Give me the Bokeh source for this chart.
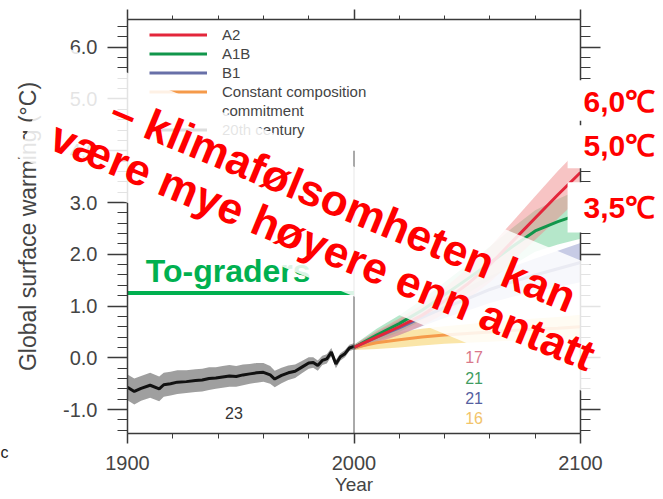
import math
import numpy as np
from bokeh.plotting import figure
from bokeh.layouts import row
from bokeh.models import (Range1d, LinearAxis, SingleIntervalTicker, PrintfTickFormatter,
                          Label, Legend, LegendItem)
from bokeh.core.properties import value
from bokeh.embed import file_html
from bokeh.resources import INLINE

# ---------------- data ----------------
obs_years = [1900, 1903, 1906, 1910, 1914, 1916, 1919, 1922, 1926, 1930, 1933, 1936, 1939,
             1942, 1945, 1948, 1951, 1954, 1957, 1960, 1963, 1965, 1968, 1971, 1974, 1977,
             1980, 1982, 1984, 1986, 1988, 1990, 1992, 1994, 1996, 1998, 2000]
obs_temp = [-0.57, -0.65, -0.59, -0.53, -0.60, -0.52, -0.50, -0.47, -0.46, -0.44, -0.43, -0.40, -0.39,
            -0.37, -0.35, -0.36, -0.33, -0.31, -0.29, -0.28, -0.33, -0.41, -0.34, -0.29, -0.26, -0.18,
            -0.10, -0.09, -0.15, -0.05, -0.02, 0.11, -0.12, 0.02, 0.08, 0.19, 0.22]
obs_spread = [0.25, 0.25, 0.24, 0.24, 0.24, 0.23, 0.23, 0.23, 0.22, 0.22, 0.22, 0.22, 0.21,
              0.21, 0.21, 0.20, 0.20, 0.19, 0.19, 0.18, 0.17, 0.16, 0.15, 0.14, 0.13, 0.12,
              0.11, 0.10, 0.10, 0.09, 0.09, 0.08, 0.08, 0.07, 0.07, 0.06, 0.06]

proj_years = [2000, 2010, 2020, 2030, 2040, 2050, 2060, 2070, 2080, 2090, 2100]
a2 = [0.20, 0.40, 0.60, 0.82, 1.10, 1.42, 1.80, 2.25, 2.70, 3.15, 3.58]
a1b = [0.20, 0.44, 0.66, 0.92, 1.22, 1.52, 1.83, 2.15, 2.45, 2.63, 2.78]
b1 = [0.20, 0.40, 0.58, 0.78, 0.97, 1.14, 1.32, 1.47, 1.60, 1.72, 1.84]
cc = [0.20, 0.29, 0.35, 0.40, 0.44, 0.47, 0.50, 0.53, 0.55, 0.57, 0.60]
a2_sd = [0.05, 0.12, 0.16, 0.20, 0.25, 0.30, 0.34, 0.38, 0.42, 0.46, 0.48]
a1b_sd = [0.05, 0.12, 0.16, 0.20, 0.24, 0.28, 0.32, 0.36, 0.40, 0.44, 0.48]
b1_sd = [0.05, 0.10, 0.14, 0.17, 0.20, 0.23, 0.26, 0.29, 0.32, 0.35, 0.38]
cc_sd = [0.05, 0.12, 0.15, 0.16, 0.17, 0.18, 0.19, 0.20, 0.21, 0.22, 0.23]

legend_labels = ["A2", "A1B", "B1", "Constant composition", "commitment", "20th century"]

count_text = ["23", "17", "21", "21", "16"]
count_x = [1947, 2053, 2053, 2053, 2053]
count_y = [-1.07, 0.02, -0.39, -0.78, -1.16]
count_colors = ["#333333", "#d9788a", "#3f9c62", "#5560a0", "#f2c46a"]

divider_year = [2000]
divider_bottom = [-1.462]
divider_top = [4.0]

two_deg_x = [1900, 2000]
two_deg_y = [1.25, 1.25]
two_deg_text = "To-graders"
two_deg_pos = (1908.1, 1.68)

banner_lines = ["\u2013 klimaf\u00f8lsomheten kan", "v\u00e6re mye h\u00f8yere enn antatt"]
banner_pos = (1991.6, 2.633)          # reference point of the white band
band_dv = 2                           # band centre offset across the band (px)
banner_line_dv = [-20, 27]            # text line offsets across the band (px)
banner_line_du = [1, -2]              # text line offsets along the band (px)

right_labels = ["6,0\u2103", "5,0\u2103", "3,5\u2103"]
right_label_y = [4.95, 4.10, 2.894]
right_label_x = 2101.3
right_box_top = [5.36, 4.49, 3.39]
right_box_bottom = [4.58, 3.66, 2.42]
right_box_left = 2094.3

edge_text = "c"
edge_pos = (1843.9, -1.83)

FONT = "Liberation Sans"

# ---------------- main chart ----------------
X0, X1, Y0, Y1 = 1900, 2100, -1.462, 6.535
W, H = 663, 499
BL, BR, BT, BB = 127, 83, 19, 66
p = figure(width=W, height=H, output_backend="svg", toolbar_location=None,
           x_range=Range1d(X0, X1), y_range=Range1d(Y0, Y1),
           x_axis_location=None, y_axis_location=None,
           min_border_left=BL, min_border_right=BR, min_border_top=BT, min_border_bottom=BB)
p.grid.visible = False
p.outline_line_color = None
p.background_fill_color = "white"
p.border_fill_color = "white"

AX = "#3a3a3a"
TXT = "#444444"

def make_axis(interval, major_out, minor_out, label_size, fmt=None, label_color=TXT, **kw):
    ax = LinearAxis(ticker=SingleIntervalTicker(interval=interval, num_minor_ticks=5),
                    major_tick_out=major_out, major_tick_in=0,
                    minor_tick_out=minor_out, minor_tick_in=0,
                    axis_line_color=AX, axis_line_width=1.5,
                    major_tick_line_color=AX, major_tick_line_width=1.5,
                    minor_tick_line_color=AX, minor_tick_line_width=1,
                    major_label_text_font=FONT, major_label_text_font_size=label_size,
                    major_label_text_color=label_color, **kw)
    if fmt is not None:
        ax.formatter = fmt
    return ax

bottom = make_axis(100, 10, 5, "20px", axis_label="Year", major_label_standoff=12,
                   axis_label_standoff=1, axis_label_text_font=FONT,
                   axis_label_text_font_size="19px", axis_label_text_font_style="normal",
                   axis_label_text_color=TXT)
top = make_axis(100, 10, 4, "1px", label_color=None, major_label_standoff=0)
left = make_axis(1, 20, 10, "20px", fmt=PrintfTickFormatter(format="%.1f"),
                 axis_label="Global surface warming (\u00b0C)", major_label_standoff=10,
                 axis_label_standoff=19, axis_label_text_font=FONT,
                 axis_label_text_font_size="23px", axis_label_text_font_style="normal",
                 axis_label_text_color=TXT)
right = make_axis(1, 20, 10, "1px", label_color=None, major_label_standoff=0)
p.add_layout(bottom, "below")
p.add_layout(top, "above")
p.add_layout(left, "left")
p.add_layout(right, "right")

# stray slide letter at the far left edge (side panel, so it is not clipped)
p.add_layout(Label(x=edge_pos[0], y=edge_pos[1], text=edge_text, text_font=FONT,
                   text_font_size="16px", text_color="#222222", text_align="left",
                   text_baseline="middle"), "left")

t = np.array(obs_temp)
s = np.array(obs_spread)
p.varea(x=obs_years, y1=t - s, y2=t + s, fill_color="#9f9f9f", fill_alpha=1.0)

py = proj_years
for vals, sd, col, alpha in [(cc, cc_sd, "#f5d060", 0.55), (b1, b1_sd, "#8f98cc", 0.5),
                             (a1b, a1b_sd, "#5cc98a", 0.45), (a2, a2_sd, "#f08a8a", 0.5)]:
    v = np.array(vals); d = np.array(sd)
    p.varea(x=py, y1=v - d, y2=v + d, fill_color=col, fill_alpha=alpha)

r_cc = p.line(py, cc, line_color="#f59a4a", line_width=3)
r_b1 = p.line(py, b1, line_color="#6870a8", line_width=3)
r_a1b = p.line(py, a1b, line_color="#11964b", line_width=3)
r_a2 = p.line(py, a2, line_color="#e3263b", line_width=3)
r_obs = p.line(obs_years, obs_temp, line_color="#111111", line_width=3)
r_blank = p.line([], [], line_alpha=0)

p.segment(x0=divider_year, y0=divider_bottom, x1=divider_year, y1=divider_top,
          line_color="#555555", line_width=1)

p.text(x=count_x, y=count_y, text=count_text, text_color=count_colors,
       text_font=value(FONT), text_font_size="16px", text_align="center", text_baseline="middle")

legend = Legend(items=[LegendItem(label=legend_labels[0], renderers=[r_a2]),
                       LegendItem(label=legend_labels[1], renderers=[r_a1b]),
                       LegendItem(label=legend_labels[2], renderers=[r_b1]),
                       LegendItem(label=legend_labels[3], renderers=[r_cc]),
                       LegendItem(label=legend_labels[4], renderers=[r_blank]),
                       LegendItem(label=legend_labels[5], renderers=[r_obs])],
                location=(22, 294), padding=7, margin=0, spacing=0,
                glyph_width=58, glyph_height=19, label_height=19, label_standoff=15,
                label_text_font=FONT, label_text_font_size="15px", label_text_color=TXT,
                background_fill_alpha=0, border_line_color=None)
p.add_layout(legend)

p.line(two_deg_x, two_deg_y, line_color="#00b050", line_width=4)
p.add_layout(Label(x=two_deg_pos[0], y=two_deg_pos[1], text=two_deg_text,
                   text_font=FONT, text_font_style="bold", text_font_size="32px",
                   text_color="#00b050", text_baseline="alphabetic", text_align="left"))

# ---------------- overlay figure: same vertical frame, full-width horizontally ----------------
px_per_year = (W - BL - BR) / (X1 - X0)
px_per_deg = (H - BT - BB) / (Y1 - Y0)
q = figure(width=W, height=H, output_backend="svg", toolbar_location=None, tools="",
           x_range=Range1d(X0 - BL / px_per_year, X1 + BR / px_per_year),
           y_range=Range1d(Y0, Y1),
           x_axis_location=None, y_axis_location=None,
           min_border_left=0, min_border_right=0, min_border_top=BT, min_border_bottom=BB)
q.grid.visible = False
q.outline_line_color = None
q.background_fill_alpha = 0
q.border_fill_alpha = 0
q.styles = {"position": "absolute", "top": "0px", "left": "0px"}

ANG = math.radians(22.5)
band_len, band_thick = 637, 120

def rot_to_data(du, dv):
    dx = du * math.cos(ANG) - dv * math.sin(ANG)
    dy = du * math.sin(ANG) + dv * math.cos(ANG)
    return banner_pos[0] + dx / px_per_year, banner_pos[1] - dy / px_per_deg

bxs, bys = [], []
for du, dv in [(-band_len / 2, -band_thick / 2), (band_len / 2, -band_thick / 2),
               (band_len / 2, band_thick / 2), (-band_len / 2, band_thick / 2)]:
    bx, by = rot_to_data(du, dv + band_dv)
    bxs.append(bx); bys.append(by)
q.patch(bxs, bys, fill_color="white", fill_alpha=0.86, line_color=None)

lx, ly = [], []
for du, dv in zip(banner_line_du, banner_line_dv):
    bx, by = rot_to_data(du, dv)
    lx.append(bx); ly.append(by)
q.text(x=lx, y=ly, text=banner_lines, angle=-ANG,
       text_font=value(FONT), text_font_style="bold", text_font_size="44px",
       text_color="#ff0000", text_align="center", text_baseline="alphabetic")

q.quad(left=[right_box_left] * 3, right=[X1 + 40] * 3, top=right_box_top,
       bottom=right_box_bottom, fill_color="white", fill_alpha=1.0, line_color=None)
q.text(x=[right_label_x] * len(right_labels), y=right_label_y, text=right_labels,
       text_font=value(FONT), text_font_style="bold", text_font_size="30px",
       text_color="#ff0000", text_align="left", text_baseline="middle")

layout = row(p, q)
open("out.html", "w").write(file_html(layout, INLINE))
